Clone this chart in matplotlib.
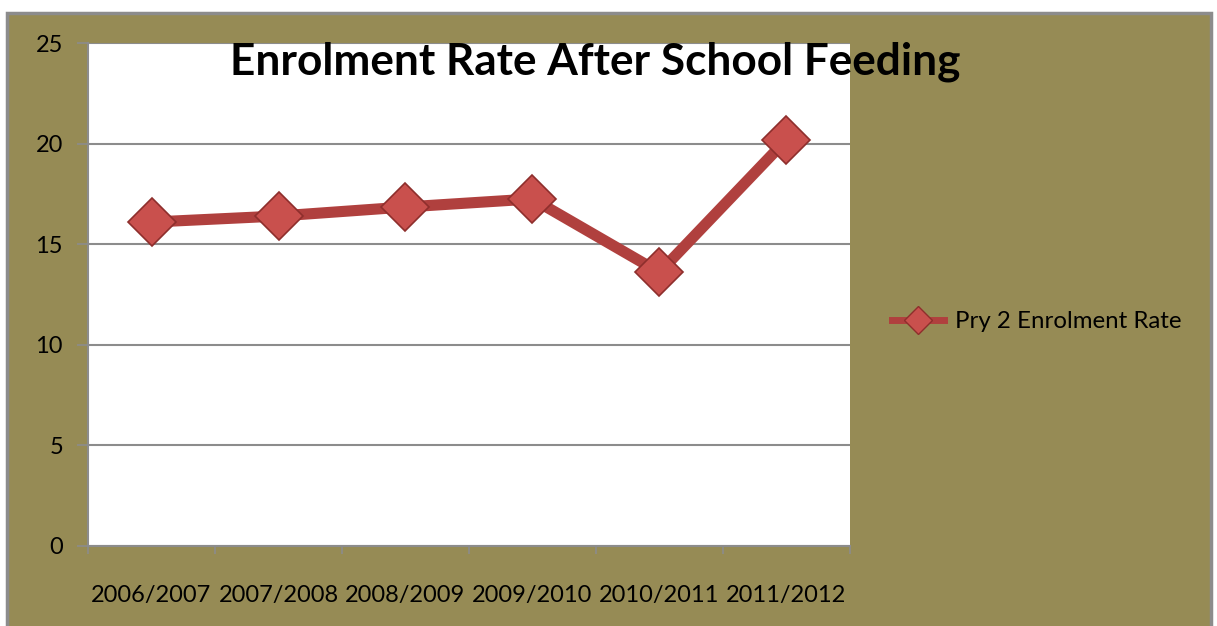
import matplotlib
matplotlib.use("Agg")
import matplotlib.pyplot as plt
from matplotlib.patches import Rectangle
from matplotlib.lines import Line2D

# Chart data
years = ["2006/2007", "2007/2008", "2008/2009", "2009/2010", "2010/2011", "2011/2012"]
enrolment = [16.1, 16.4, 16.85, 17.25, 13.6, 20.2]
y_ticks = [0, 5, 10, 15, 20, 25]

BG = "#968B55"
LINE = "#B0403E"
MARK = "#C9504D"
EDGE = "#8E2E2C"
GRID = "#8C8C8C"

plt.rcParams["font.family"] = ["Lato", "DejaVu Sans"]

W, H = 1217, 626
fig = plt.figure(figsize=(W / 100, H / 100), dpi=100)
fig.patch.set_facecolor("white")

# olive chart area with grey frame
fig.patches.append(Rectangle((7 / W, -0.01), (1211 - 7) / W, (H - 13) / H + 0.01,
                             transform=fig.transFigure, facecolor=BG,
                             edgecolor=GRID, linewidth=2.5, zorder=-5))

ax = fig.add_axes([88 / W, 1 - 546 / H, (850 - 88) / W, (546 - 43) / H])
ax.set_facecolor("white")
x = list(range(len(years)))
ax.plot(x, enrolment, color=LINE, linewidth=8, solid_capstyle="round", zorder=3)
ax.plot(x, enrolment, linestyle="none", marker="D", markersize=24,
        markerfacecolor=MARK, markeredgecolor=EDGE, markeredgewidth=1.2, zorder=4)

ax.set_xlim(-0.5, len(years) - 0.5)
ax.set_ylim(0, 25)
ax.set_yticks(y_ticks)
ax.set_yticklabels([str(v) for v in y_ticks], fontsize=17)
ax.yaxis.grid(True, color=GRID, linewidth=1.5)
ax.set_axisbelow(True)

ax.set_xticks([i - 0.5 for i in range(len(years) + 1)])
ax.set_xticklabels([])
ax.set_xticks(x, minor=True)
ax.set_xticklabels(years, minor=True, fontsize=17)
ax.tick_params(axis="x", which="minor", length=0, pad=28)
ax.tick_params(axis="x", which="major", length=6, color=GRID, width=1.2)
ax.tick_params(axis="y", length=8, color=GRID, width=1.2, pad=10)

for s in ["top", "right"]:
    ax.spines[s].set_visible(False)
for s in ["left", "bottom"]:
    ax.spines[s].set_color(GRID)
    ax.spines[s].set_linewidth(1.5)

fig.text(595 / W, 1 - 62 / H, "Enrolment Rate After School Feeding",
         ha="center", va="center", fontsize=31.8, fontweight="bold", zorder=5)

handle = Line2D([0], [0], color=LINE, linewidth=5, marker="D", markersize=14,
                markerfacecolor=MARK, markeredgecolor=EDGE)
leg = fig.legend([handle], ["Pry 2 Enrolment Rate"], loc="center left",
                 bbox_to_anchor=(870 / W, 1 - 322 / H), frameon=False,
                 fontsize=17.3, handlelength=2.2, handletextpad=0.45)

fig.savefig("out.png", dpi=100)
